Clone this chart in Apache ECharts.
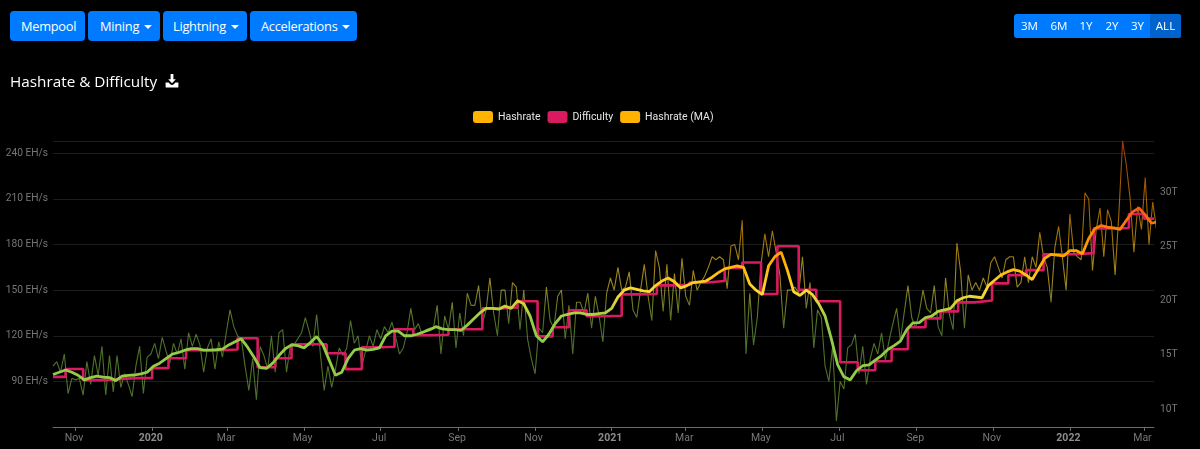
<!DOCTYPE html>
<html>
<head>
<meta charset="utf-8">
<title>Hashrate & Difficulty</title>
<script src="https://cdn.jsdelivr.net/npm/echarts@6/dist/echarts.min.js"></script>
<style>
  html, body { margin: 0; padding: 0; background: #000; width: 1200px; height: 449px; overflow: hidden; font-family: "Open Sans", "Noto Sans", sans-serif; }
  #chart { position: absolute; left: 0; top: 0; width: 1200px; height: 449px; }
  .btn { position: absolute; top: 11px; height: 30px; line-height: 30px; background: #007bff; color: #fff; border-radius: 4px; font-size: 12.8px; letter-spacing: -0.25px; box-sizing: border-box; white-space: nowrap; padding-left: 11px; }
  .caret { display: inline-block; margin-left: 5px; vertical-align: 2px; border-top: 4.5px solid #fff; border-left: 4px solid transparent; border-right: 4px solid transparent; }
  .group { position: absolute; left: 1014px; top: 14px; width: 167px; height: 24px; background: #007bff; border-radius: 3px; overflow: hidden; display: flex; color: #fff; font-size: 11.6px; line-height: 24px; text-align: center; }
  .group span.active { background: #0062cc; }
  #title { position: absolute; left: 10px; top: 69px; color: #fff; font-size: 15.3px; line-height: 24px; white-space: nowrap; }
  #dl { position: absolute; left: 165px; top: 74px; }
</style>
</head>
<body>
<div id="chart"></div>
<div class="btn" style="left:10px;width:75px">Mempool</div>
<div class="btn" style="left:88px;width:72px;padding-left:12px">Mining<i class="caret"></i></div>
<div class="btn" style="left:163px;width:84px;padding-left:10px">Lightning<i class="caret"></i></div>
<div class="btn" style="left:250px;width:107px">Accelerations<i class="caret"></i></div>
<div class="group"><span style="width:31px">3M</span><span style="width:28px">6M</span><span style="width:26px">1Y</span><span style="width:26px">2Y</span><span style="width:25px">3Y</span><span class="active" style="width:31px">ALL</span></div>
<div id="title">Hashrate &amp; Difficulty</div>
<svg id="dl" width="14" height="14" viewBox="0 0 14 14"><path d="M5.6 0h2.8v5.2h2.4L7 9.2 3.2 5.2h2.4z" fill="#fff"/><path d="M0.6 8.4h3l1.6 1.9c.9.9 2.7.9 3.6 0l1.6-1.9h3v4.3c0 .5-.4.9-.9.9H1.5c-.5 0-.9-.4-.9-.9z" fill="#fff"/></svg>
<script>
// Hashrate, sampled every third day from the first date (EH/s)
const hashrateStart = '2019-10-14';
const hashrateEveryDays = 3;
const hashrateValues = [
100,103,96,108,82,92,91,92,81,103,88,107,94,113,81,107,83,107,86,95,88,80,100,113,82,106,108,115,105,119,
110,102,115,108,118,98,122,113,121,114,96,112,118,98,116,106,122,137,126,120,
118,100,84,105,78,113,107,98,120,96,122,124,96,113,114,118,122,132,123,113,134,108,84,100,86,98,112,107,112,130,
115,120,100,110,120,113,124,118,126,122,129,119,108,112,122,138,124,128,121,124,
125,125,140,108,133,124,142,112,135,120,148,140,140,153,128,137,158,135,120,150,150,128,155,152,124,150,118,105,95,125,
122,152,130,125,146,150,118,140,108,142,142,135,148,125,146,133,116,148,158,
150,165,150,152,162,137,132,150,167,146,130,176,165,136,167,130,161,135,171,146,140,163,150,155,159,165,172,170,172,170,
151,179,180,170,196,108,148,114,132,167,187,172,189,175,160,125,150,150,152,
148,172,138,155,112,137,132,100,90,113,64,90,85,112,114,121,95,113,88,105,115,108,122,104,117,128,138,117,135,153,
132,125,135,150,138,135,153,126,120,158,134,124,181,162,125,160,150,155,150,158,
152,168,172,165,158,170,172,172,152,155,172,155,172,165,188,172,165,142,178,192,172,150,200,175,172,170,214,210,163,190,
204,172,203,195,160,200,248,232,210,175,205,190,224,180,208,190
];
// Hashrate moving average, sampled every fifth day from the same first date (EH/s)
const maEveryDays = 5;
const maValues = [
94.5,96,97.5,96,94,91,92.5,93.5,92.8,92.5,90.5,93.5,94,94.2,95,96,100,102,105,108,109,110.5,111.5,111.5,110.5,110.5,110.8,111.2,114,116,
118,112.5,106,99,98.5,102,107,111.5,114,113.5,112,115.5,119.5,114,104,94,96,105,110.5,111.5,110.5,111,112,120,123,123,120,120,121,122.5,
124,126,124.5,124,124,123.5,127,131,135,138,138,137.5,139.5,138,143,141,133,120,116,121,128,133,134,135,135,134,134,134.5,135,138,
145.5,150,151.5,150.5,149.5,149,153,156,158,155.5,151.5,153,155,155.5,156,158.5,161.5,164,165,166,165,154,150,147,166,172,175,163,149,
146.5,150,147,141,133,118,101,93,91,97,100.3,100.8,104,107,111,113.5,116.5,124,128.5,128.7,132,133,136,137,138,143,145,146,145.5,145,
153,156.5,160,162,163.5,162.5,160,157,164,171,173.5,173,172.5,176,176,174,184,190.5,192.5,191.5,191,190,196,201.5,204,199.5,194,195
];
// Difficulty retargets: each value holds from its date until the next date (T)
const difficultyDates = [
'2019-10-14','2019-10-24','2019-11-07','2019-11-21','2019-12-05','2019-12-18','2020-01-01','2020-01-14','2020-01-28','2020-02-11','2020-02-25',
'2020-03-09','2020-03-25','2020-04-08','2020-04-21','2020-05-06','2020-05-19','2020-06-03','2020-06-16','2020-06-30','2020-07-12','2020-07-27',
'2020-08-10','2020-08-24','2020-09-07','2020-09-20','2020-10-04','2020-10-18','2020-11-03','2020-11-15','2020-11-28','2020-12-12','2020-12-26',
'2021-01-09','2021-01-22','2021-02-06','2021-02-18','2021-03-04','2021-03-18','2021-04-01','2021-04-15','2021-04-30','2021-05-13','2021-05-30',
'2021-06-13','2021-07-02','2021-07-16','2021-07-30','2021-08-12','2021-08-25','2021-09-08','2021-09-20','2021-10-04','2021-10-17','2021-10-31',
'2021-11-13','2021-11-27','2021-12-11','2021-12-24','2022-01-06','2022-01-20','2022-02-03','2022-02-17','2022-03-01','2022-03-09'
];
const difficultyValues = [
12.97,13.7,12.67,12.76,12.85,12.85,13.77,14.69,15.42,15.42,15.49,
16.52,13.86,14.69,15.97,15.97,15.15,13.68,15.7,15.75,17.35,16.8,
16.85,17.35,17.35,19.28,19.37,19.93,16.7,17.54,19.1,18.55,18.6,
20.57,20.6,21.4,21.45,21.67,21.8,23,23.5,20.6,25,21,
19.93,14.32,13.58,14.41,15.51,17.54,18.36,19,19.83,20,21.58,
22.34,22.8,24.25,24.27,24.37,26.64,26.69,27.97,27.55,27.55
];
const xTickDates = ['2019-11-01','2020-01-01','2020-03-01','2020-05-01','2020-07-01','2020-09-01','2020-11-01','2021-01-01','2021-03-01','2021-05-01','2021-07-01','2021-09-01','2021-11-01','2022-01-01','2022-03-01'];
const monthNames = ['Jan','Feb','Mar','Apr','May','Jun','Jul','Aug','Sep','Oct','Nov','Dec'];
const rightTicks = [10, 15, 20, 25, 30];
const legendNames = ['Hashrate', 'Difficulty', 'Hashrate (MA)'];

const DAY = 86400000;
const t0 = Date.parse(hashrateStart);
const ts = s => Date.parse(s);
const hashratePts = hashrateValues.map((v, i) => [t0 + i * hashrateEveryDays * DAY, v]);
const maPts = maValues.map((v, i) => [t0 + i * maEveryDays * DAY, v]);
const diffPts = difficultyValues.map((v, i) => [ts(difficultyDates[i]), v]);

const LG = echarts.graphic.LinearGradient;
const grad = (a, low) => new LG(0, 0, 0, 0.65, [
  { offset: 0, color: '#F4511E' + a }, { offset: 0.25, color: '#FB8C00' + a }, { offset: 0.5, color: '#FFB300' + a },
  { offset: 0.75, color: '#FDD835' + a }, { offset: 1, color: low + a }
]);
const labelGrey = '#777777';
const axisFont = 'Roboto, "Open Sans", sans-serif';
const chart = echarts.init(document.getElementById('chart'), null, { renderer: 'canvas' });
chart.setOption({
  backgroundColor: '#000',
  animation: false,
  textStyle: { fontFamily: axisFont },
  legend: {
    top: 111, left: 473, padding: 0, itemWidth: 20, itemHeight: 12, itemGap: 7, itemStyle: { borderWidth: 0 }, icon: 'roundRect',
    textStyle: { color: '#e6e6e6', fontSize: 10.5, fontFamily: axisFont },
    data: legendNames
  },
  grid: { left: 53, right: 46, top: 141, bottom: 22, containLabel: false },
  xAxis: {
    type: 'value', min: ts('2019-10-14'), max: ts('2022-03-09'),
    axisLine: { lineStyle: { color: '#666b75' } },
    axisTick: { show: true, length: 4, lineStyle: { color: '#666b75' }, customValues: xTickDates.map(ts) },
    axisLabel: {
      customValues: xTickDates.map(ts), margin: 6, color: labelGrey, fontSize: 10.5, hideOverlap: false, padding: [0, 3, 0, 0],
      formatter: v => { const d = new Date(v); return d.getUTCMonth() === 0 ? '{b|' + d.getUTCFullYear() + '}' : monthNames[d.getUTCMonth()]; },
      rich: { b: { fontWeight: 'bold', color: '#8c8c8c', fontSize: 10.5, fontFamily: axisFont } }
    },
    splitLine: { show: false }
  },
  yAxis: [
    {
      type: 'value', min: 60, max: 248.1, interval: 30,
      axisLine: { show: false }, axisTick: { show: false },
      axisLabel: { color: labelGrey, fontSize: 10.2, margin: 5, padding: [4, 0, 0, 0], showMinLabel: false, showMaxLabel: false, formatter: '{value} EH/s' },
      splitLine: { lineStyle: { color: '#1d1d1d', width: 1 } }
    },
    {
      type: 'value', position: 'right', min: 8.35, max: 34.7,
      axisLine: { show: false }, axisTick: { show: false },
      axisLabel: { color: labelGrey, fontSize: 10.2, margin: 6, padding: [4, 0, 0, 0], customValues: rightTicks, formatter: '{value}T' },
      splitLine: { show: false }
    }
  ],
  series: [
    { name: legendNames[0], type: 'line', yAxisIndex: 0, showSymbol: false, symbol: 'none', z: 1, itemStyle: { color: '#FFB300' }, lineStyle: { width: 1.1, color: grad('a0', '#7CB342') }, data: hashratePts },
    { name: legendNames[1], type: 'line', yAxisIndex: 1, showSymbol: false, symbol: 'none', z: 2, step: 'end', itemStyle: { color: '#D81B60' }, lineStyle: { width: 2.6, color: '#D81B60' }, data: diffPts },
    { name: legendNames[2], type: 'line', yAxisIndex: 0, showSymbol: false, symbol: 'none', z: 3, itemStyle: { color: '#FFB300' }, lineStyle: { width: 2.8, color: grad('', '#93CC48') }, data: maPts }
  ]
});
</script>
</body>
</html>
